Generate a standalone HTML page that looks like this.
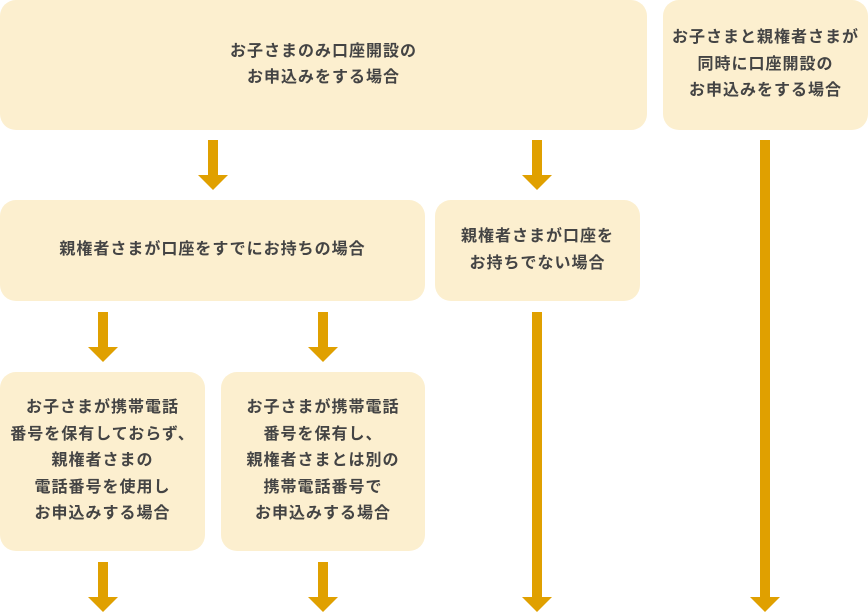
<!DOCTYPE html>
<html><head><meta charset="utf-8"><style>
body{margin:0;width:868px;height:612px;background:#fff;position:relative;overflow:hidden;font-family:"Liberation Sans","Noto Sans CJK JP",sans-serif;}
.b{position:absolute;background:#fcefcf;border-radius:16px;display:flex;align-items:center;justify-content:center;text-align:center;color:#444;font-size:16px;letter-spacing:1px;font-weight:bold;line-height:26.5px;}
.a{position:absolute;width:30px;}
.a .s{position:absolute;left:10px;top:0;width:10px;background:#e0a000;}
.a .h{position:absolute;left:0;width:0;height:0;border-left:15px solid transparent;border-right:15px solid transparent;border-top:15px solid #e0a000;}
</style></head><body>
<div class="b" style="left:0;top:0;width:647px;height:130px">お子さまのみ口座開設の<br>お申込みをする場合</div>
<div class="b" style="left:663px;top:0;width:205px;height:130px">お子さまと親権者さまが<br>同時に口座開設の<br>お申込みをする場合</div>
<div class="b" style="left:0;top:200px;width:425px;height:101px">親権者さまが口座をすでにお持ちの場合</div>
<div class="b" style="left:435px;top:200px;width:205px;height:101px">親権者さまが口座を<br>お持ちでない場合</div>
<div class="b" style="left:0;top:372px;width:205px;height:179px">お子さまが携帯電話<br>番号を保有しておらず、<br>親権者さまの<br>電話番号を使用し<br>お申込みする場合</div>
<div class="b" style="left:221px;top:372px;width:204px;height:179px">お子さまが携帯電話<br>番号を保有し、<br>親権者さまとは別の<br>携帯電話番号で<br>お申込みする場合</div>

<div class="a" style="left:198px;top:140px"><div class="s" style="height:36px"></div><div class="h" style="top:35px"></div></div>
<div class="a" style="left:522px;top:140px"><div class="s" style="height:36px"></div><div class="h" style="top:35px"></div></div>
<div class="a" style="left:750px;top:140px"><div class="s" style="height:458px"></div><div class="h" style="top:457px"></div></div>
<div class="a" style="left:88px;top:312px"><div class="s" style="height:36px"></div><div class="h" style="top:35px"></div></div>
<div class="a" style="left:308px;top:312px"><div class="s" style="height:36px"></div><div class="h" style="top:35px"></div></div>
<div class="a" style="left:522px;top:312px"><div class="s" style="height:286px"></div><div class="h" style="top:285px"></div></div>
<div class="a" style="left:88px;top:562px"><div class="s" style="height:36px"></div><div class="h" style="top:35px"></div></div>
<div class="a" style="left:308px;top:562px"><div class="s" style="height:36px"></div><div class="h" style="top:35px"></div></div>
</body></html>
